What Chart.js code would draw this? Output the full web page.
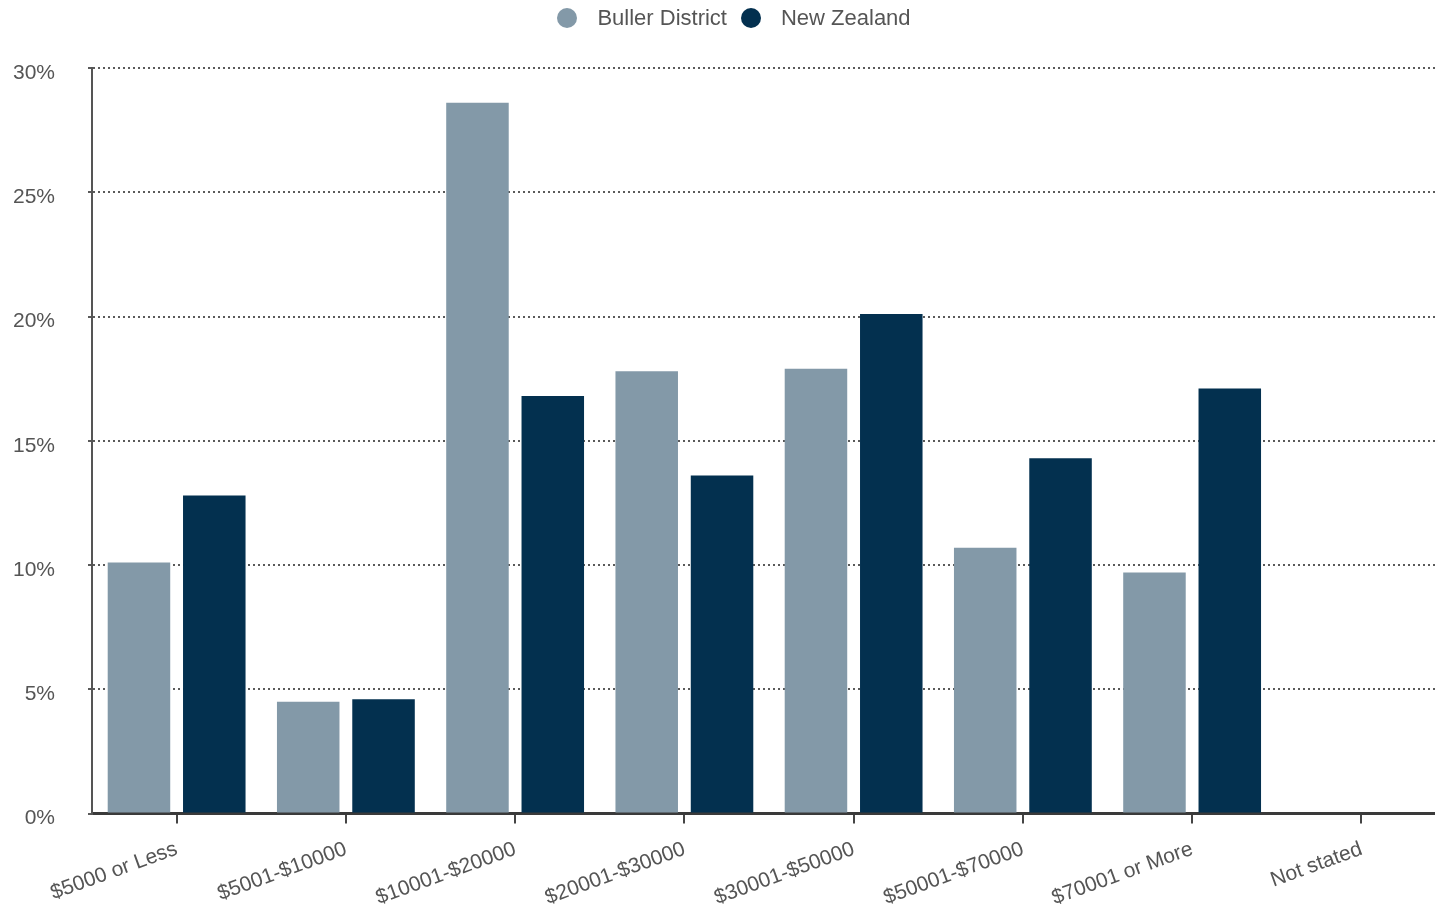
<!DOCTYPE html>
<html>
<head>
<meta charset="utf-8">
<script src="https://cdn.jsdelivr.net/npm/chart.js@4"></script>
<style>
  html, body { margin:0; padding:0; background:#fff; overflow:hidden; }
  #wrap { width:1450px; height:913px; position:relative; }
  #legend { position:absolute; top:5px; left:0; width:1468px; display:flex; justify-content:center;
            font:22px 'Liberation Sans', Arial, sans-serif; color:#555; }
  .lg-item { display:flex; align-items:center; margin:0 7px; }
  .lg-dot  { width:20px; height:20px; border-radius:50%; margin-right:20px; }
</style>
</head>
<body>
<div id="wrap">
  <canvas id="chart"></canvas>
  <div id="legend"></div>
</div>
<script>
// ── Data ──────────────────────────────────────────────────────────────
const categories = ['$5000 or Less', '$5001-$10000', '$10001-$20000', '$20001-$30000',
                    '$30001-$50000', '$50001-$70000', '$70001 or More', 'Not stated'];
const bullerVals = [10.1, 4.5, 28.6, 17.8, 17.9, 10.7, 9.7, 0];
const nzVals     = [12.8, 4.6, 16.8, 13.6, 20.1, 14.3, 17.1, 0];
const yTicks     = [0, 5, 10, 15, 20, 25, 30];

const TEXT = '#555';
const GRID = '#5a5a5a';

Chart.defaults.font.family = "'Liberation Sans', Arial, sans-serif";
Chart.defaults.color = TEXT;

const chart = new Chart(document.getElementById('chart'), {
    type: 'bar',
    data: {
        labels: categories,
        datasets: [
            { label:'Buller District', data: bullerVals, backgroundColor:'#8399a8' },
            { label:'New Zealand',     data: nzVals,     backgroundColor:'#03304f' },
        ]
    },
    options: {
        responsive: true,
        maintainAspectRatio: false,
        animation: false,
        datasets: { bar: { categoryPercentage: 0.89, barPercentage: 0.83 } },
        layout: { padding: { left: 0, right: 4, top: 68, bottom: -11 } },
        plugins: {
            tooltip: { enabled: false },
            legend: { display: false }
        },
        scales: {
            x: {
                grid: { drawOnChartArea: false, drawTicks: true, offset: false, tickLength: 10, color: '#444', lineWidth: 2 },
                border: { display: true, color: '#3a3a3a', width: 3 },
                ticks: { minRotation: 20, maxRotation: 20, font: { size: 21 }, color: TEXT, padding: 13 }
            },
            y: {
                min: 0, max: 30,
                afterBuildTicks: axis => { axis.ticks = yTicks.map(v => ({ value: v })); },
                afterFit: axis => { axis.width = 92; },
                grid: { color: GRID, lineWidth: 2, tickLength: 4, drawTicks: true },
                border: { display: true, color: '#555', width: 2, dash: [2, 3] },
                ticks: { callback: v => v + '%', font: { size: 21 }, color: TEXT, padding: 33, labelOffset: 5 }
            }
        }
    }
});

// ── Legend ────────────────────────────────────────────────────────────
document.getElementById('legend').innerHTML = chart.data.datasets.map(ds => `
    <div class="lg-item"><span class="lg-dot" style="background:${ds.backgroundColor}"></span>${ds.label}</div>`).join('');
</script>
</body>
</html>
